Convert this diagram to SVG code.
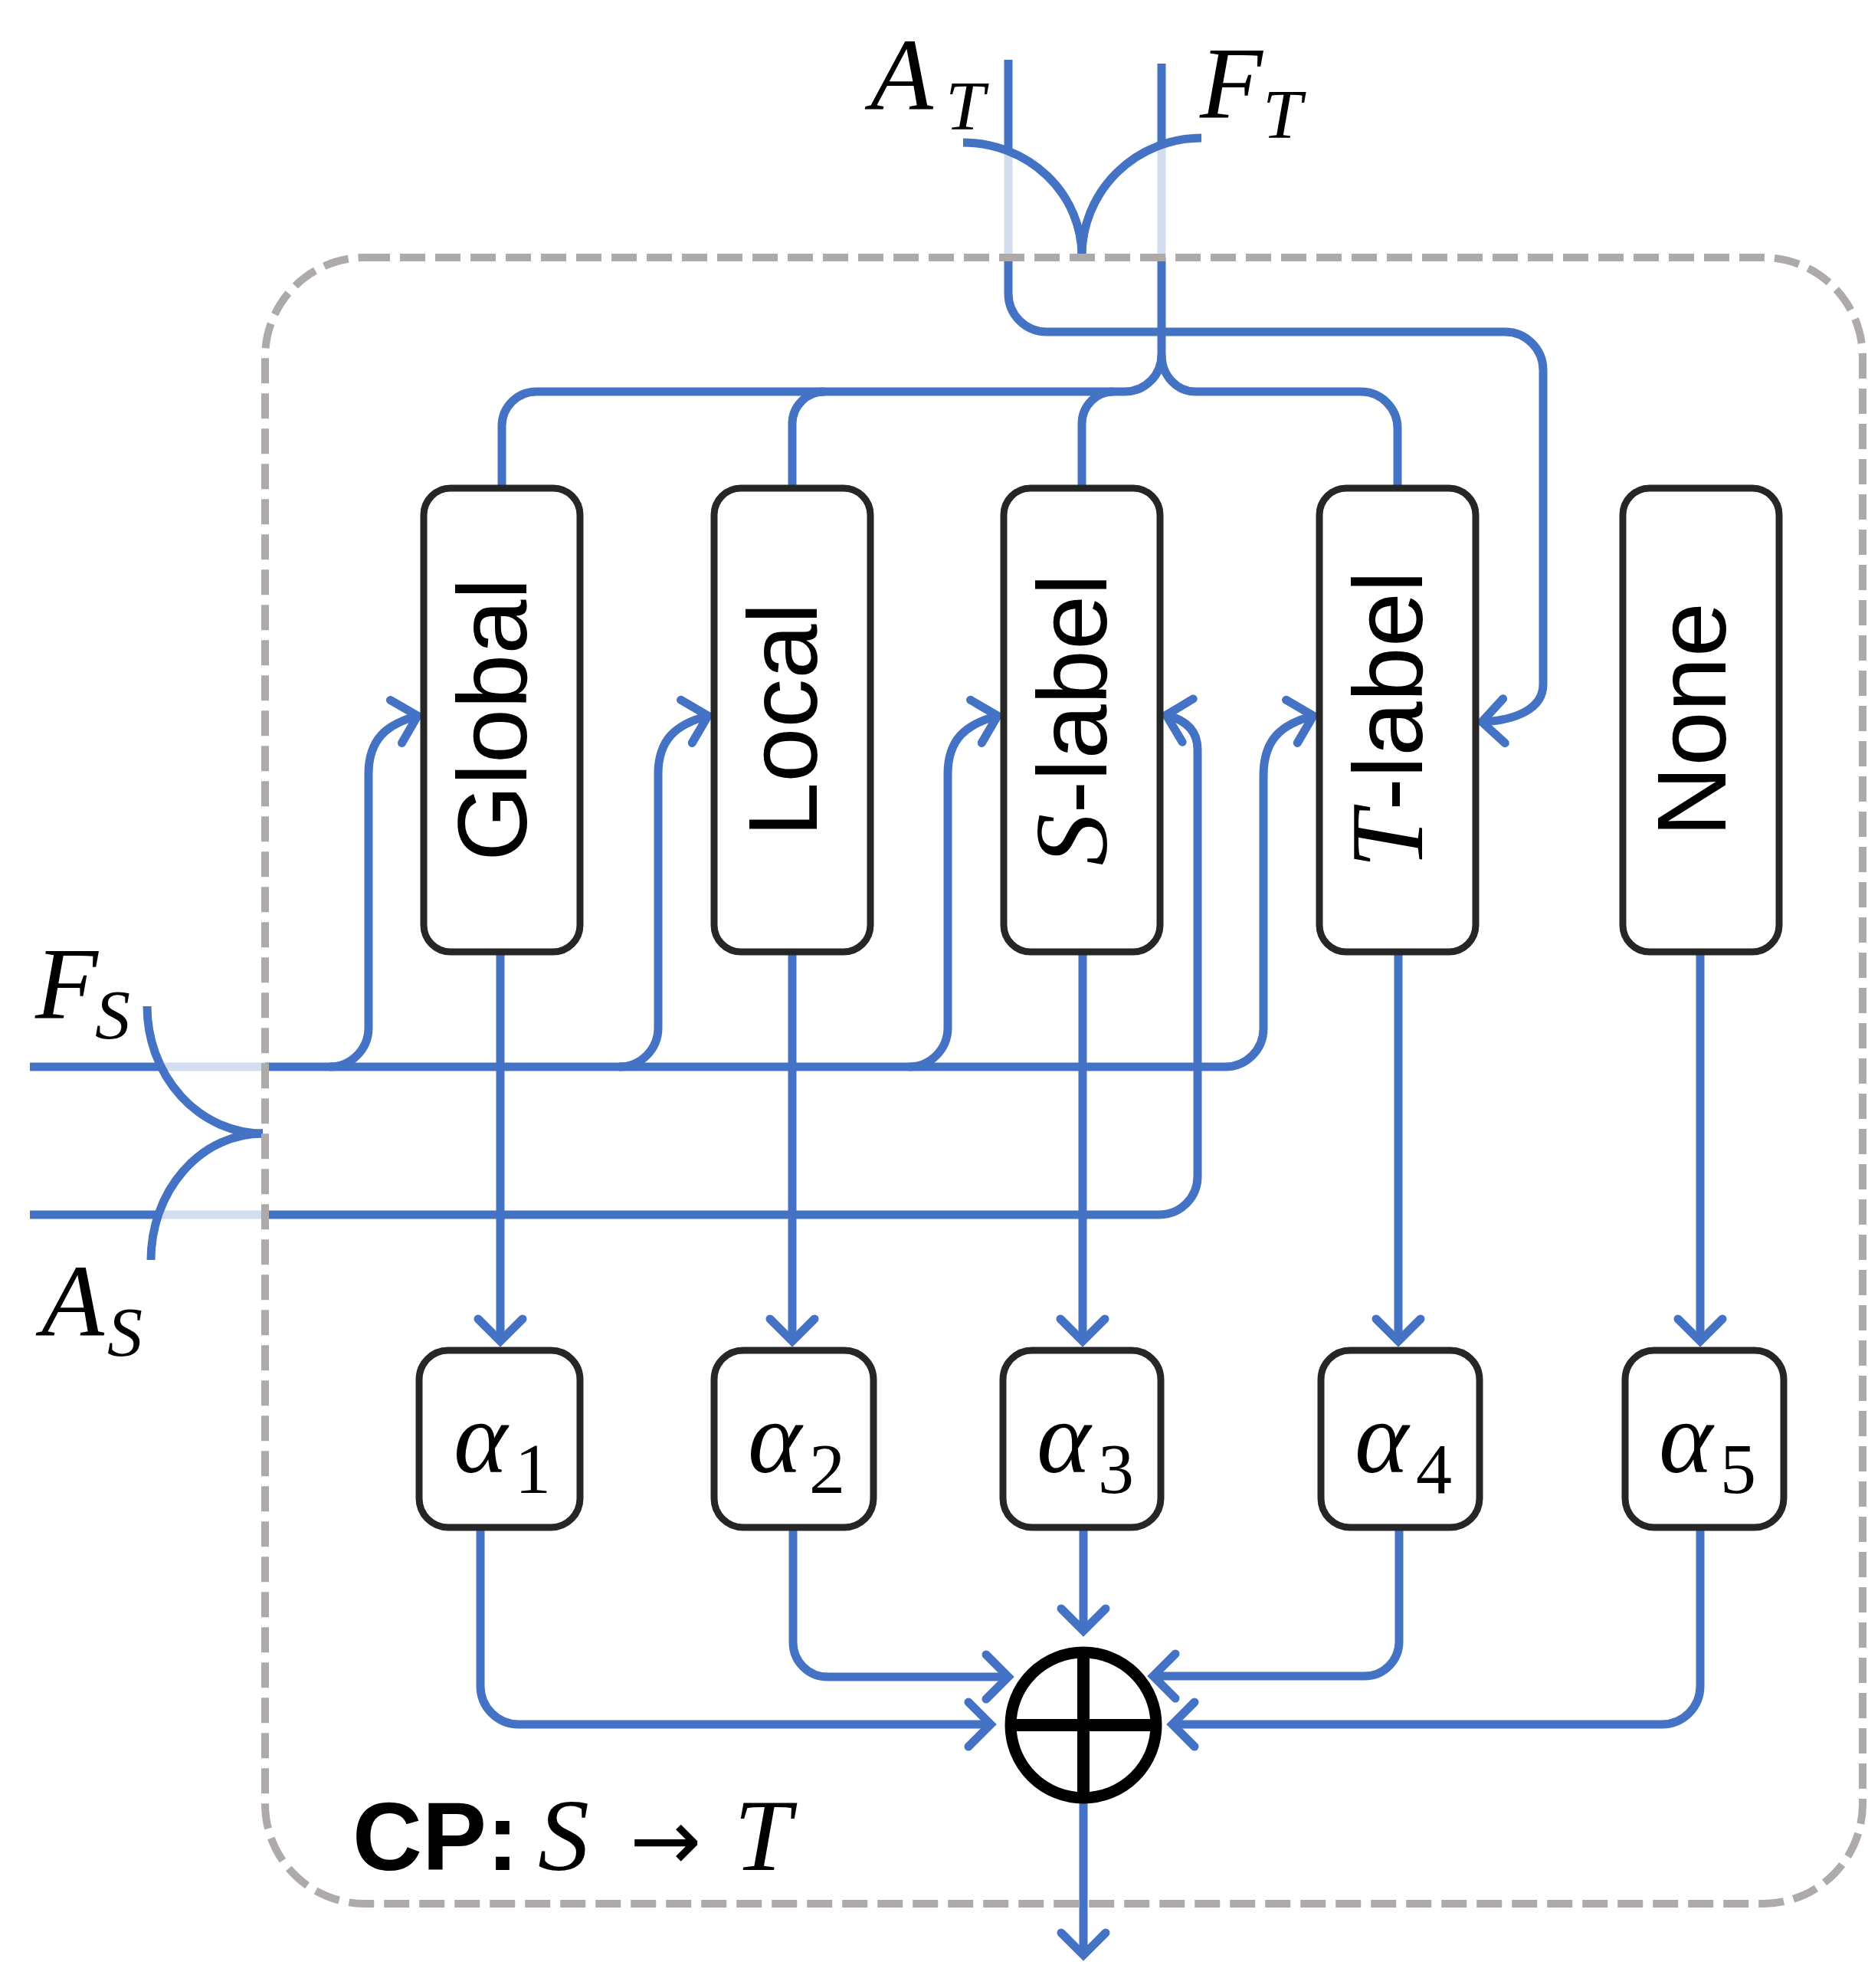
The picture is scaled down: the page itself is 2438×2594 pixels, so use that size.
<svg xmlns="http://www.w3.org/2000/svg" width="2438" height="2594" viewBox="0 0 2438 2594">
<style>
.ln{fill:none;stroke:#4472C4;stroke-width:11}
.lt{fill:none;stroke:#D2DEF0;stroke-width:11}
.arr{marker-end:url(#ah)}
.box{fill:#ffffff;stroke:#262626;stroke-width:9}
.lbl{font-family:"Liberation Sans",Arial,sans-serif;font-size:128px;fill:#000}
.m{font-family:"Liberation Serif","Times New Roman",serif;font-style:italic;fill:#000}
.big{font-size:134px}
.sub{font-size:92px}
.dig{font-family:"Liberation Serif","Times New Roman",serif;font-style:normal;font-size:94px}
.border{fill:none;stroke:#AEAAAA;stroke-width:10;stroke-dasharray:33 13}
</style>
<defs>
<marker id="ah" markerUnits="userSpaceOnUse" orient="auto" refX="0" refY="0" markerWidth="100" markerHeight="100" viewBox="-50 -50 100 100" overflow="visible">
<path d="M-29,-29 L0,0 L-29,29" fill="none" stroke="#4472C4" stroke-width="11" stroke-linecap="round" stroke-linejoin="miter"/>
</marker>
</defs>
<rect width="2438" height="2594" fill="#ffffff"/>

<g id="connectors">
<!-- A_T -->
<path class="ln" d="M1316,78 V197"/>
<path class="lt" d="M1316,197 V336"/>
<path class="ln arr" d="M1316,336 V383 A50,50 0 0 0 1366,433 H1964 A50,50 0 0 1 2014,483 V893 C2014,925 1978,940 1934,942"/>
<!-- F_T -->
<path class="ln" d="M1516,83 V189"/>
<path class="lt" d="M1516,189 V336"/>
<path class="ln" d="M1516,336 V463 A48,48 0 0 1 1468,511 H700 A45,45 0 0 0 655,556 V637"/>
<path class="ln" d="M1516,463 A44,48 0 0 0 1560,511 H1776 A48,48 0 0 1 1824,559 V637"/>
<path class="ln" d="M1076,511 A42,42 0 0 0 1034,553 V637"/>
<path class="ln" d="M1453,511 A41,42 0 0 0 1412,553 V637"/>
<!-- merge curves top -->
<path class="ln" d="M1257,186 A155,148 0 0 1 1412,334"/>
<path class="ln" d="M1568,180 A156,154 0 0 0 1412,334"/>
<!-- F_S -->
<path class="ln" d="M39,1392 H210"/>
<path class="lt" d="M210,1392 H346"/>
<path class="ln arr" d="M346,1392 H1599 A50,50 0 0 0 1649,1342 V1012 C1649,965 1672,945 1714,934"/>
<path class="ln arr" d="M430,1392 A51,51 0 0 0 481,1341 V1010 C481,965 504,945 545,934"/>
<path class="ln arr" d="M808,1392 A51,51 0 0 0 859,1341 V1010 C859,965 882,945 924,934"/>
<path class="ln arr" d="M1186,1392 A51,51 0 0 0 1237,1341 V1010 C1237,965 1260,945 1302,934"/>
<!-- A_S -->
<path class="ln" d="M39,1585 H207"/>
<path class="lt" d="M207,1585 H346"/>
<path class="ln arr" d="M346,1585 H1513 A50,50 0 0 0 1563,1535 V978 C1563,955 1550,940 1522,933"/>
<!-- merge curves left -->
<path class="ln" d="M192,1313 A151,166 0 0 0 343,1479"/>
<path class="ln" d="M197,1644 A146,165 0 0 1 343,1479"/>
<!-- modules to alphas -->
<path class="ln arr" d="M653,1246 V1750"/>
<path class="ln arr" d="M1034,1246 V1750"/>
<path class="ln arr" d="M1413,1246 V1750"/>
<path class="ln arr" d="M1825,1246 V1750"/>
<path class="ln arr" d="M2219,1246 V1750"/>
<!-- alphas to sum -->
<path class="ln arr" d="M627,1997 V2200 A50,50 0 0 0 677,2250 H1293"/>
<path class="ln arr" d="M1035,1997 V2143 A45,45 0 0 0 1080,2188 H1316"/>
<path class="ln arr" d="M1414,1997 V2128"/>
<path class="ln arr" d="M1826,1997 V2142 A45,45 0 0 1 1781,2187 H1505"/>
<path class="ln arr" d="M2219,1997 V2200 A50,50 0 0 1 2169,2250 H1530"/>
<path class="ln arr" d="M1414,2346 V2551"/>
</g>

<rect class="border" x="346" y="336" width="2085" height="2148" rx="130" ry="130"/>

<g id="node-global">
<rect class="box" x="553" y="637" width="204" height="605" rx="35"/>
<text class="lbl" text-anchor="middle" transform="translate(687,939) rotate(-90)">Global</text>
</g>
<g id="node-local">
<rect class="box" x="932" y="637" width="204" height="605" rx="35"/>
<text class="lbl" text-anchor="middle" transform="translate(1066,939) rotate(-90)">Local</text>
</g>
<g id="node-slabel">
<rect class="box" x="1310" y="637" width="204" height="605" rx="35"/>
<text class="lbl" text-anchor="middle" transform="translate(1444,939) rotate(-90)"><tspan class="m" font-size="136">S</tspan>-label</text>
</g>
<g id="node-tlabel">
<rect class="box" x="1722" y="637" width="204" height="605" rx="35"/>
<text class="lbl" text-anchor="middle" transform="translate(1856,939) rotate(-90)"><tspan class="m" font-size="136">T</tspan>-label</text>
</g>
<g id="node-none">
<rect class="box" x="2118" y="637" width="204" height="605" rx="35"/>
<text class="lbl" text-anchor="middle" transform="translate(2252,939) rotate(-90)">None</text>
</g>

<g id="node-a1">
<rect class="box" x="547" y="1762" width="210" height="231" rx="38"/>
<text class="m big"><tspan x="592" y="1921">α</tspan><tspan class="dig" x="672" y="1948">1</tspan></text>
</g>
<g id="node-a2">
<rect class="box" x="932" y="1762" width="208" height="231" rx="38"/>
<text class="m big"><tspan x="976" y="1921">α</tspan><tspan class="dig" x="1056" y="1948">2</tspan></text>
</g>
<g id="node-a3">
<rect class="box" x="1309" y="1762" width="206" height="231" rx="38"/>
<text class="m big"><tspan x="1353" y="1921">α</tspan><tspan class="dig" x="1433" y="1948">3</tspan></text>
</g>
<g id="node-a4">
<rect class="box" x="1724" y="1762" width="207" height="231" rx="38"/>
<text class="m big"><tspan x="1768" y="1921">α</tspan><tspan class="dig" x="1848" y="1948">4</tspan></text>
</g>
<g id="node-a5">
<rect class="box" x="2121" y="1762" width="207" height="231" rx="38"/>
<text class="m big"><tspan x="2165" y="1921">α</tspan><tspan class="dig" x="2245" y="1948">5</tspan></text>
</g>

<g id="node-sum">
<circle cx="1414" cy="2251" r="95" fill="#ffffff" stroke="#000" stroke-width="15"/>
<line x1="1414" y1="2163" x2="1414" y2="2339" stroke="#000" stroke-width="16"/>
<line x1="1326" y1="2251" x2="1502" y2="2251" stroke="#000" stroke-width="16"/>
</g>

<g id="labels">
<text class="m big"><tspan x="1136" y="142">A</tspan><tspan class="sub" x="1234" y="169">T</tspan></text>
<text class="m big"><tspan x="1566" y="153">F</tspan><tspan class="sub" x="1648" y="180">T</tspan></text>
<text class="m big"><tspan x="46" y="1328">F</tspan><tspan class="sub" x="124" y="1355">S</tspan></text>
<text class="m big"><tspan x="54" y="1742">A</tspan><tspan class="sub" x="140" y="1769">S</tspan></text>
<text y="2440"><tspan x="460" font-family="Liberation Sans, Arial, sans-serif" font-weight="bold" font-size="126">CP:</tspan><tspan class="m" font-size="134" x="702">S</tspan><tspan font-family="DejaVu Sans, sans-serif" font-size="112" x="822">→</tspan><tspan class="m" font-size="134" x="958">T</tspan></text>
</g>
</svg>
